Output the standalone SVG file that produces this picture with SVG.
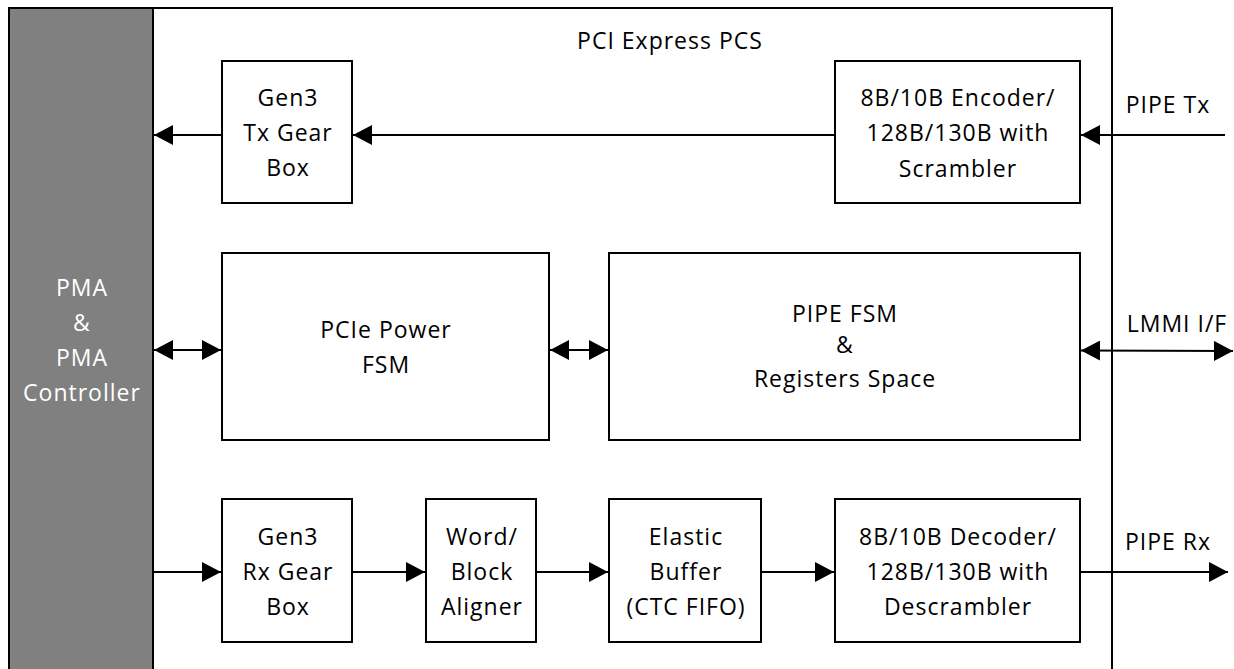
<svg xmlns="http://www.w3.org/2000/svg" width="1234" height="669" viewBox="0 0 1234 669">
<style>
.box{fill:#fff;stroke:#000;stroke-width:2}
.t{font-family:"Open Sans","Liberation Sans",sans-serif;font-size:23px;letter-spacing:1px;text-anchor:middle;fill:#000}
.w{fill:#fff}
.c{stroke:#000;stroke-width:2;fill:none}
</style>
<defs>
<marker id="ah" viewBox="0 0 19 20" refX="19" refY="10" markerWidth="19" markerHeight="20" markerUnits="userSpaceOnUse" orient="auto-start-reverse">
<path d="M0,0 L19,10 L0,20 Z" fill="#000"/>
</marker>
</defs>
<rect width="1234" height="669" fill="#fff"/>
<g id="pcs">
<rect x="9" y="8" width="1103" height="700" fill="#fff" stroke="#000" stroke-width="2"/>
<text class="t" x="670" y="49">PCI Express PCS</text>
</g>
<g id="pma">
<rect x="9" y="8" width="144" height="700" fill="#808080" stroke="#000" stroke-width="2"/>
<text class="t w" x="82" y="296">PMA</text>
<text class="t w" x="82" y="331">&amp;</text>
<text class="t w" x="82" y="366">PMA</text>
<text class="t w" x="82" y="401">Controller</text>
</g>
<g id="txgear">
<rect class="box" x="222" y="61" width="130" height="142"/>
<text class="t" x="288" y="106">Gen3</text>
<text class="t" x="288" y="141">Tx Gear</text>
<text class="t" x="288" y="176">Box</text>
</g>
<g id="encoder">
<rect class="box" x="835" y="61" width="245" height="142"/>
<text class="t" x="958" y="105.5">8B/10B Encoder/</text>
<text class="t" x="958" y="141">128B/130B with</text>
<text class="t" x="958" y="176.5">Scrambler</text>
</g>
<g id="powerfsm">
<rect class="box" x="222" y="253" width="327" height="187"/>
<text class="t" x="386" y="338">PCIe Power</text>
<text class="t" x="386" y="373">FSM</text>
</g>
<g id="pipefsm">
<rect class="box" x="609" y="253" width="471" height="187"/>
<text class="t" x="845" y="321.5">PIPE FSM</text>
<text class="t" x="845" y="353">&amp;</text>
<text class="t" x="845" y="386.5">Registers Space</text>
</g>
<g id="rxgear">
<rect class="box" x="222" y="499" width="130" height="143"/>
<text class="t" x="288" y="545">Gen3</text>
<text class="t" x="288" y="580">Rx Gear</text>
<text class="t" x="288" y="614.5">Box</text>
</g>
<g id="aligner">
<rect class="box" x="426" y="499" width="110" height="143"/>
<text class="t" x="482" y="545">Word/</text>
<text class="t" x="482" y="580">Block</text>
<text class="t" x="482" y="614.5">Aligner</text>
</g>
<g id="elastic">
<rect class="box" x="609" y="499" width="152" height="143"/>
<text class="t" x="686" y="545">Elastic</text>
<text class="t" x="686" y="580">Buffer</text>
<text class="t" x="686" y="614.5">(CTC FIFO)</text>
</g>
<g id="decoder">
<rect class="box" x="835" y="499" width="245" height="143"/>
<text class="t" x="958" y="545">8B/10B Decoder/</text>
<text class="t" x="958" y="580">128B/130B with</text>
<text class="t" x="958" y="614.5">Descrambler</text>
</g>
<g id="labels">
<text class="t" x="1168" y="113">PIPE Tx</text>
<text class="t" x="1177" y="332">LMMI I/F</text>
<text class="t" x="1168" y="550">PIPE Rx</text>
</g>
<g id="connectors">
<line class="c" x1="1225" y1="135" x2="1081" y2="135" marker-end="url(#ah)"/>
<line class="c" x1="835" y1="135" x2="353" y2="135" marker-end="url(#ah)"/>
<line class="c" x1="222" y1="135" x2="154" y2="135" marker-end="url(#ah)"/>
<line class="c" x1="154" y1="350" x2="221" y2="350" marker-start="url(#ah)" marker-end="url(#ah)"/>
<line class="c" x1="550" y1="350" x2="608" y2="350" marker-start="url(#ah)" marker-end="url(#ah)"/>
<line class="c" x1="1081" y1="350.5" x2="1233" y2="351" marker-start="url(#ah)" marker-end="url(#ah)"/>
<line class="c" x1="154" y1="572" x2="221" y2="572" marker-end="url(#ah)"/>
<line class="c" x1="353" y1="572" x2="425" y2="572" marker-end="url(#ah)"/>
<line class="c" x1="537" y1="572" x2="608" y2="572" marker-end="url(#ah)"/>
<line class="c" x1="762" y1="572" x2="834" y2="572" marker-end="url(#ah)"/>
<line class="c" x1="1081" y1="572" x2="1228" y2="572" marker-end="url(#ah)"/>
</g>
</svg>
